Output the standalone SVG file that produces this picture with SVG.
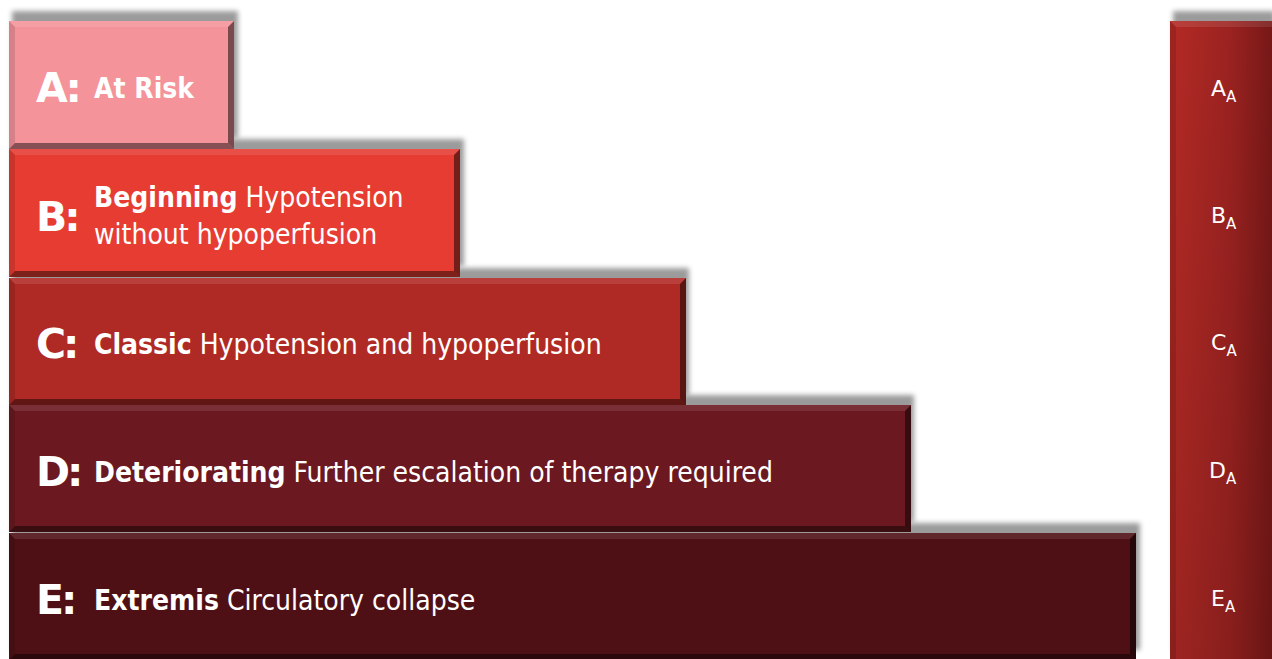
<svg xmlns="http://www.w3.org/2000/svg" width="1272" height="659" viewBox="0 0 1272 659">
<defs>
<filter id="sh" x="-5%" y="-20%" width="110%" height="140%"><feGaussianBlur stdDeviation="2.5"/></filter>
<linearGradient id="bar" x1="0" y1="0" x2="1" y2="0">
<stop offset="0" stop-color="#b42a25"/><stop offset="0.6" stop-color="#9a2220"/><stop offset="1" stop-color="#761817"/>
</linearGradient>
<linearGradient id="barv" x1="0" y1="0" x2="0" y2="1">
<stop offset="0" stop-color="#000" stop-opacity="0"/><stop offset="1" stop-color="#000" stop-opacity="0.12"/>
</linearGradient>
</defs>
<style>
.shadow{fill:#8a8a8a;opacity:0.85;filter:url(#sh)}
.bt{fill:#fff;opacity:0.1}
.bl{fill:#000;opacity:0.12}
.br{fill:#000;opacity:0.5}
.bb{fill:#000;opacity:0.45}
.big{font-family:"DejaVu Sans",Verdana,sans-serif;font-weight:bold;font-size:41px;fill:#fff;letter-spacing:-3px}
.t{font-family:"DejaVu Sans",Verdana,sans-serif;font-size:28px;fill:#fff;font-stretch:condensed}
.b{font-weight:bold}
.s{font-family:"DejaVu Sans",Verdana,sans-serif;font-size:22px;fill:#fff}
.ss{font-size:15px}
</style>
<g id="shadows">
<rect class="shadow" x="12" y="11" width="226" height="127"/>
<rect class="shadow" x="12" y="139" width="452" height="127"/>
<rect class="shadow" x="12" y="268" width="677" height="127"/>
<rect class="shadow" x="12" y="395" width="902" height="127"/>
<rect class="shadow" x="12" y="523" width="1128" height="127"/>
<rect class="shadow" x="1173" y="11" width="102" height="640"/>
</g>
<g id="nodeE">
<rect x="9" y="533" width="1127" height="127" fill="#4f1015"/>
<polygon class="bt" points="9,533 1136,533 1130,539 15,539"/>
<polygon class="bl" points="9,533 15,539 15,654 9,660"/>
<polygon class="br" points="1136,533 1136,660 1130,654 1130,539"/>
<polygon class="bb" points="9,660 15,654 1130,654 1136,660"/>
<text class="big" x="36" y="614">E:</text>
<text class="t" x="94" y="610"><tspan class="b">Extremis</tspan> Circulatory collapse</text>
</g>
<g id="nodeD">
<rect x="9" y="405" width="902" height="127" fill="#6b1820"/>
<polygon class="bt" points="9,405 911,405 905,411 15,411"/>
<polygon class="bl" points="9,405 15,411 15,526 9,532"/>
<polygon class="br" points="911,405 911,532 905,526 905,411"/>
<polygon class="bb" points="9,532 15,526 905,526 911,532"/>
<text class="big" x="36" y="486">D:</text>
<text class="t" x="94" y="482"><tspan class="b">Deteriorating</tspan> Further escalation of therapy required</text>
</g>
<g id="nodeC">
<rect x="9" y="278" width="677" height="127" fill="#b02a25"/>
<polygon class="bt" points="9,278 686,278 680,284 15,284"/>
<polygon class="bl" points="9,278 15,284 15,399 9,405"/>
<polygon class="br" points="686,278 686,405 680,399 680,284"/>
<polygon class="bb" points="9,405 15,399 680,399 686,405"/>
<text class="big" x="36" y="358">C:</text>
<text class="t" x="94" y="354"><tspan class="b">Classic</tspan> Hypotension and hypoperfusion</text>
</g>
<g id="nodeB">
<rect x="9" y="149" width="451" height="128" fill="#e63c32"/>
<polygon class="bt" points="9,149 460,149 454,155 15,155"/>
<polygon class="bl" points="9,149 15,155 15,271 9,277"/>
<polygon class="br" points="460,149 460,277 454,271 454,155"/>
<polygon class="bb" points="9,277 15,271 454,271 460,277"/>
<text class="big" x="36" y="231">B:</text>
<text class="t" x="94" y="207"><tspan class="b">Beginning</tspan> Hypotension</text>
<text class="t" x="94" y="244">without hypoperfusion</text>
</g>
<g id="nodeA">
<rect x="9" y="21" width="225" height="128" fill="#f4939a"/>
<polygon class="bt" points="9,21 234,21 228,27 15,27"/>
<polygon class="bl" points="9,21 15,27 15,143 9,149"/>
<polygon class="br" points="234,21 234,149 228,143 228,27"/>
<polygon class="bb" points="9,149 15,143 228,143 234,149"/>
<text class="big" x="36" y="102">A:</text>
<text class="t b" x="94" y="98">At Risk</text>
</g>
<g id="barA">
<rect x="1170" y="21" width="102" height="640" fill="url(#bar)"/>
<rect x="1170" y="21" width="102" height="640" fill="url(#barv)"/>
<polygon class="bt" points="1170,21 1272,21 1272,27 1176,27"/>
<polygon class="bl" points="1170,21 1176,27 1176,660 1170,660"/>
<text class="s" x="1211" y="96">A<tspan class="ss" dy="6">A</tspan></text>
<text class="s" x="1211" y="223">B<tspan class="ss" dy="6">A</tspan></text>
<text class="s" x="1211" y="350">C<tspan class="ss" dy="6">A</tspan></text>
<text class="s" x="1209" y="478">D<tspan class="ss" dy="6">A</tspan></text>
<text class="s" x="1211" y="606">E<tspan class="ss" dy="6">A</tspan></text>
</g>
</svg>
